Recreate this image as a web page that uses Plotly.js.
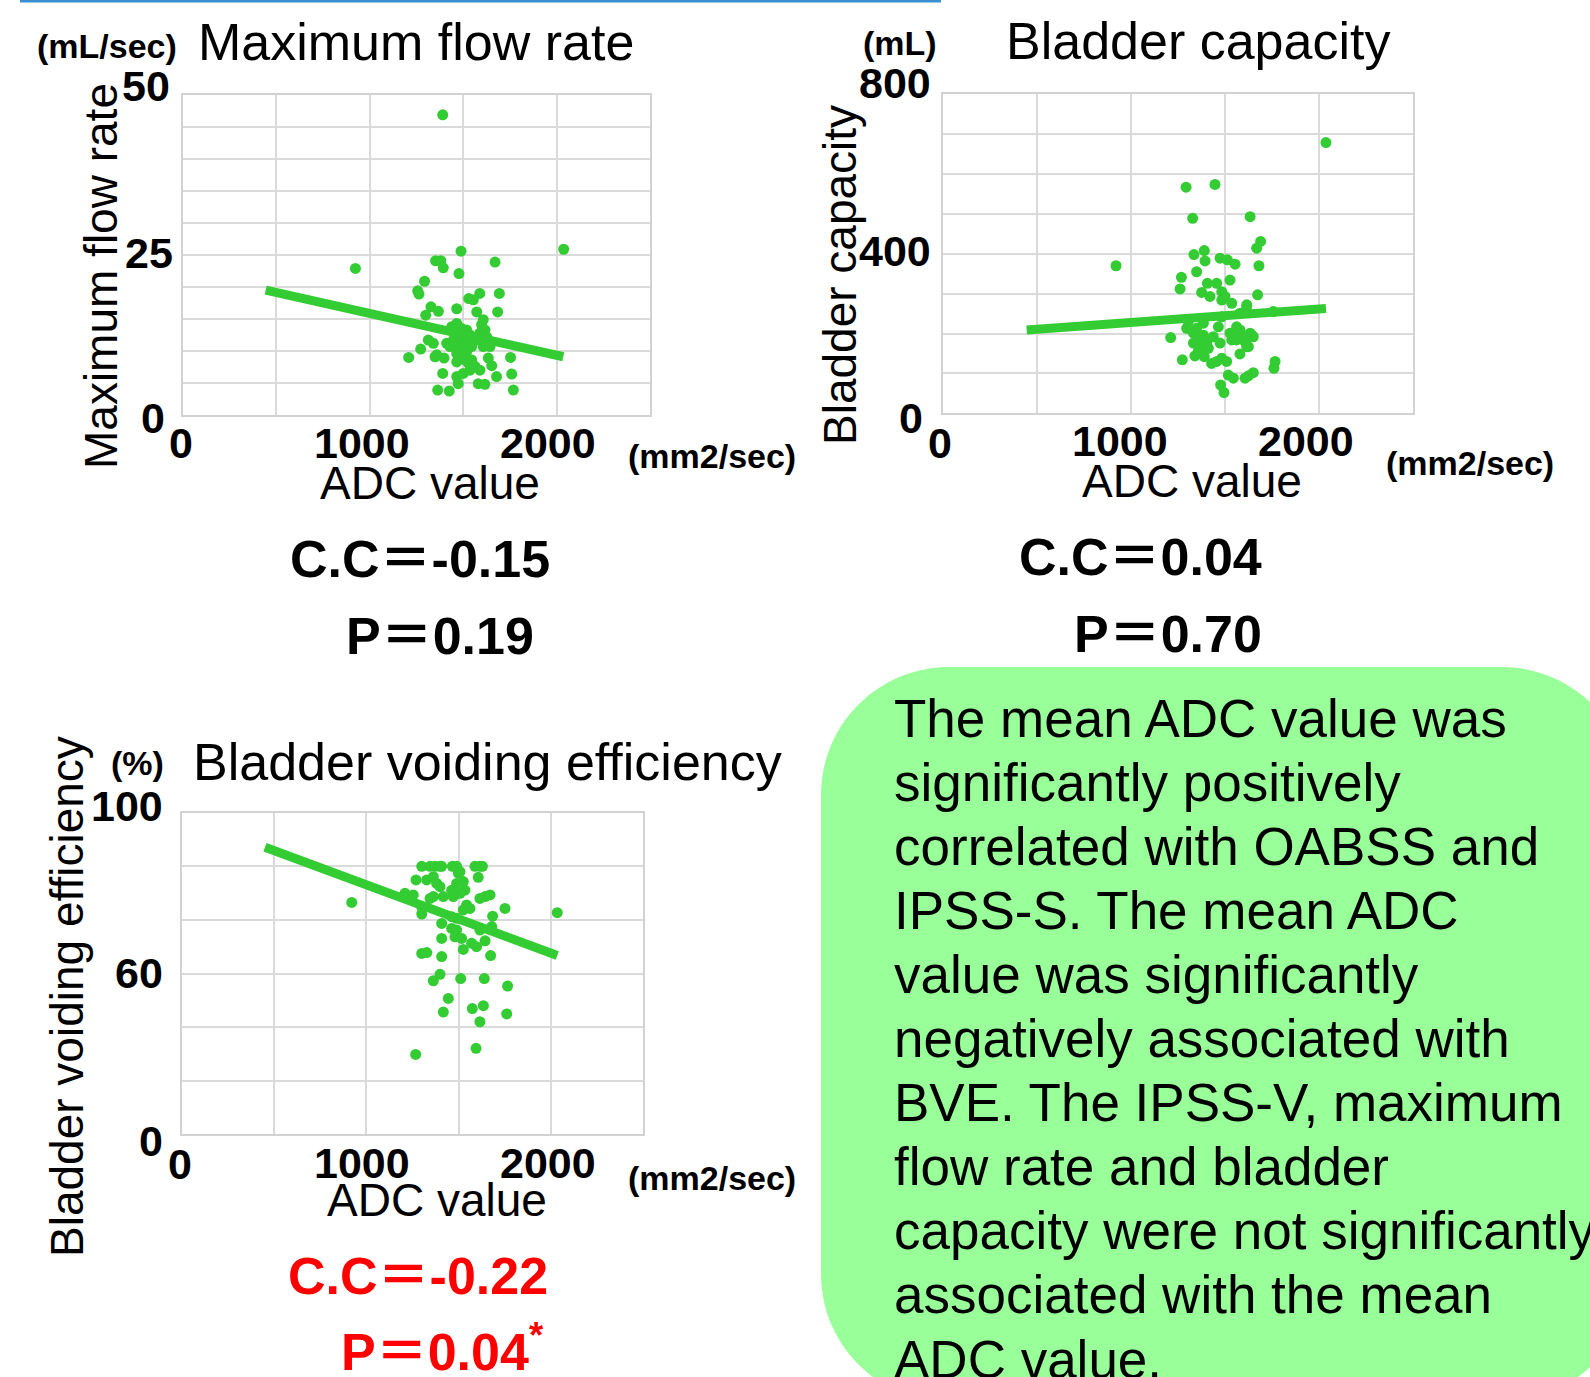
<!DOCTYPE html>
<html>
<head>
<meta charset="utf-8">
<script src="https://cdn.plot.ly/plotly-3.0.1.min.js"></script>
<style>html,body{margin:0;padding:0;background:#fff;}#chart{width:1590px;height:1377px;}</style>
</head>
<body>
<div id="chart"></div>
<script>
// ---------- DATA ----------
// Maximum flow rate (mL/sec) vs ADC value
const flowADC = [1391,2038,924,1489,1353,1381,1394,1671,1478,1294,1257,1264,1589,1530,1555,1694,1685,1466,1573,1328,1368,1300,1608,1314,1341,1412,1569,1617,1635,1273,1209,1350,1398,1359,1466,1519,1501,1635,1653,1754,1760,1391,1466,1501,1537,1590,1474,1581,1617,1679,1364,1426,1769,1439,1466,1492,1519,1457,1483,1510,1537,1448,1475,1501,1528,1430,1483,1546,1519,1466,1528,1546,1564,1590,1617,1626,1608,1644,1582,1599];
const flowRate = [46.9,25.9,22.9,25.6,24.1,24.1,23.0,23.9,22.1,20.9,19.4,18.9,19.0,18.2,18.0,19.0,16.1,16.6,16.1,16.9,16.2,15.6,14.9,11.7,11.2,11.2,12.2,11.2,11.7,10.3,9.0,9.1,8.9,9.4,9.6,10.2,8.7,8.9,7.7,9.0,6.4,6.5,6.0,6.5,7.0,7.0,4.9,4.9,4.8,6.0,3.9,3.75,3.9,13.8,14.3,13.5,13.3,12.8,12.5,12.2,12.5,11.7,11.5,11.2,11.5,10.7,10.7,10.7,9.9,8.3,8.1,8.6,7.6,12.8,13.3,12.2,10.7,10.7,11.7,14.1];
const flowFitADC = [444, 2036];
const flowFit = [19.5, 9.1];

// Bladder capacity (mL) vs ADC value
const capADC = [2038,1293,1447,1328,1634,1690,1669,920,1335,1390,1394,1474,1513,1554,1681,1349,1268,1261,1527,1406,1456,1376,1420,1483,1500,1674,1483,1536,1616,1758,1296,1349,1385,1465,1385,1527,1580,1634,1651,1211,1332,1367,1412,1536,1607,1625,1580,1340,1390,1429,1483,1509,1273,1767,1761,1518,1545,1625,1651,1477,1495,1607,1305,1332,1367,1403,1438,1474,1358,1456,1545,1562,1589,1643,1616,1562,1483,1580,1616];
const capacity = [679,567,574,489,493,431,414,370,398,408,382,389,385,374,370,355,341,312,334,326,326,303,293,305,293,297,284,276,272,255,213,213,226,217,196,201,209,201,192,190,176,163,163,184,180,167,149,144,142,125,138,130,134,130,113,96,88,94,102,71,52,88,230,201,188,176,192,176,155,130,201,184,192,196,167,217,242,251,268];
const capFitADC = [444, 2038];
const capFit = [209, 263];

// Bladder voiding efficiency (%) vs ADC value
const bveADC = [1300,1345,1372,1399,1408,1466,1489,1588,1615,1629,1507,1498,1269,1327,1606,1363,1381,1399,1489,1525,1534,1462,1471,1507,1209,1254,1345,1363,1417,1615,1643,1670,921,1543,1525,1561,1300,1300,1751,1684,2034,1462,1489,1408,1462,1489,1480,1516,1615,1679,1408,1570,1597,1643,1525,1300,1327,1408,1673,1399,1363,1511,1639,1765,1444,1417,1574,1634,1760,1615,1594,1267];
const bve = [100,100,100,100,100,100,100,100,100,100,98,97.5,94.9,94.9,95.9,96.1,93.6,92.4,93.6,94.3,91.1,91.1,88.7,89.9,89.9,89.3,88.0,88.7,88.7,88.0,88.7,89.3,86.5,85.6,83.7,84.3,84.9,82.2,84.3,81.4,82.7,81.2,80.6,78.7,76.8,76.2,73.7,73.1,76.2,77.5,73.1,71.3,70.0,72.2,69.0,67.5,67.8,66.3,66.7,59.7,57.3,58.1,58.1,55.3,50.7,45.6,46.9,48.0,44.9,42.0,32.1,29.8];
const bveFitADC = [451, 2034];
const bveFit = [107.1, 66.7];

// Text
const titles = ["Maximum flow rate", "Bladder capacity", "Bladder voiding efficiency"];
const units = ["(mL/sec)", "(mL)", "(%)"];
const yTickLabels = [["50","25","0"], ["800","400","0"], ["100","60","0"]];
const xTickLabels = ["0","1000","2000"];
const xTitle = "ADC value";
const xUnit = "(mm2/sec)";
const EQ = "<span style=\"font-family:'Noto Sans CJK JP'\">＝</span>";
const stats = [["C.C" + EQ + "-0.15", "P" + EQ + "0.19"],
               ["C.C" + EQ + "0.04", "P" + EQ + "0.70"],
               ["C.C" + EQ + "-0.22", "P" + EQ + "0.04<sup>*</sup>"]];
const boxLines = ["The mean ADC value was","significantly positively","correlated with OABSS and","IPSS-S. The mean ADC","value was significantly","negatively associated with","BVE. The IPSS-V, maximum","flow rate and bladder","capacity were not significantly","associated with the mean","ADC value."];

// ---------- LAYOUT HELPERS ----------
const W = 1590, H = 1377;
const FONT = "Liberation Sans, Arial, Helvetica, sans-serif";
const GREEN = "#33cc33";
const px = x => x / W;
const py = y => 1 - y / H;
const annotations = [];
function ann(text, x, y, size, opts) {
  opts = opts || {};
  annotations.push({
    text: text, xref: "paper", yref: "paper", x: px(x), y: py(y),
    xanchor: opts.xa || "center", yanchor: "middle", showarrow: false,
    textangle: opts.angle || 0,
    font: {family: FONT, size: size, color: opts.color || "#000", weight: opts.bold ? "bold" : "normal"}
  });
}

// Plot 1 texts
ann(units[0], 35, 46, 34, {bold: true, xa: "left"});
ann(titles[0], 196, 42, 52, {xa: "left"});
ann(yTickLabels[0][0], 172, 86, 43, {bold: true, xa: "right"});
ann(yTickLabels[0][1], 175, 253, 43, {bold: true, xa: "right"});
ann(yTickLabels[0][2], 167, 418, 43, {bold: true, xa: "right"});
ann(xTickLabels[0], 181, 443, 43, {bold: true});
ann(xTickLabels[1], 362, 443, 43, {bold: true});
ann(xTickLabels[2], 548, 443, 43, {bold: true});
ann(xUnit, 712, 456, 34, {bold: true});
ann(xTitle, 430, 483, 46);
ann(titles[0], 101, 276, 46, {angle: -90});
ann(stats[0][0], 420, 554, 52, {bold: true});
ann(stats[0][1], 440, 632, 52, {bold: true});

// Plot 2 texts
ann(units[1], 900, 43, 34, {bold: true});
ann(titles[1], 1004, 41, 52, {xa: "left"});
ann(yTickLabels[1][0], 933, 83, 43, {bold: true, xa: "right"});
ann(yTickLabels[1][1], 933, 251, 43, {bold: true, xa: "right"});
ann(yTickLabels[1][2], 925, 418, 43, {bold: true, xa: "right"});
ann(xTickLabels[0], 940, 443, 43, {bold: true});
ann(xTickLabels[1], 1120, 441, 43, {bold: true});
ann(xTickLabels[2], 1306, 441, 43, {bold: true});
ann(xUnit, 1470, 463, 34, {bold: true});
ann(xTitle, 1192, 481, 46);
ann(titles[1], 840, 275, 46, {angle: -90});
ann(stats[1][0], 1140, 552, 52, {bold: true});
ann(stats[1][1], 1168, 630, 52, {bold: true});

// Plot 3 texts
ann(units[2], 137, 763, 34, {bold: true});
ann(titles[2], 191, 762, 52, {xa: "left"});
ann(yTickLabels[2][0], 165, 806, 43, {bold: true, xa: "right"});
ann(yTickLabels[2][1], 165, 973, 43, {bold: true, xa: "right"});
ann(yTickLabels[2][2], 165, 1141, 43, {bold: true, xa: "right"});
ann(xTickLabels[0], 180, 1164, 43, {bold: true});
ann(xTickLabels[1], 362, 1163, 43, {bold: true});
ann(xTickLabels[2], 548, 1163, 43, {bold: true});
ann(xUnit, 712, 1178, 34, {bold: true});
ann(xTitle, 437, 1200, 46);
ann(titles[2], 67, 997, 46, {angle: -90});
ann(stats[2][0], 418, 1271, 52, {bold: true, color: "#ff0000"});
ann(stats[2][1], 442, 1347, 52, {bold: true, color: "#ff0000"});

// Box text
boxLines.forEach((t, i) => ann(t, 892, 718 + i * 64.1, 53, {xa: "left"}));

// Rounded green box
function roundedRect(L, T, R, B, r) {
  const k = 0.5523 * r;
  const P = (x, y) => px(x).toFixed(5) + "," + py(y).toFixed(5);
  return "M" + P(L + r, T) + " L" + P(R - r, T) +
    " C" + P(R - r + k, T) + " " + P(R, T + r - k) + " " + P(R, T + r) +
    " L" + P(R, B - r) +
    " C" + P(R, B - r + k) + " " + P(R - r + k, B) + " " + P(R - r, B) +
    " L" + P(L + r, B) +
    " C" + P(L + r - k, B) + " " + P(L, B - r + k) + " " + P(L, B - r) +
    " L" + P(L, T + r) +
    " C" + P(L, T + r - k) + " " + P(L + r - k, T) + " " + P(L + r, T) + " Z";
}
const shapes = [
  {type: "path", xref: "paper", yref: "paper", path: roundedRect(821, 667, 1630, 1402, 128),
   fillcolor: "#99ff99", line: {width: 0}, layer: "below"},
  {type: "line", xref: "paper", yref: "paper", x0: px(20), x1: px(941), y0: py(1), y1: py(1),
   line: {color: "#3a8fd4", width: 3}}
];

function axis(domain, range, dtick, anchor) {
  return {domain: domain, range: range, dtick: dtick, anchor: anchor, showticklabels: false,
    ticks: "", showgrid: true, gridcolor: "#dadada", gridwidth: 2, zeroline: false,
    showline: true, mirror: true, linecolor: "#d2d2d2", linewidth: 2, fixedrange: true};
}

const traces = [
  {x: flowADC, y: flowRate, xaxis: "x", yaxis: "y", mode: "markers", type: "scatter",
   marker: {color: GREEN, size: 11}},
  {x: flowFitADC, y: flowFit, xaxis: "x", yaxis: "y", mode: "lines", type: "scatter",
   line: {color: GREEN, width: 9}},
  {x: capADC, y: capacity, xaxis: "x2", yaxis: "y2", mode: "markers", type: "scatter",
   marker: {color: GREEN, size: 11}},
  {x: capFitADC, y: capFit, xaxis: "x2", yaxis: "y2", mode: "lines", type: "scatter",
   line: {color: GREEN, width: 9}},
  {x: bveADC, y: bve, xaxis: "x3", yaxis: "y3", mode: "markers", type: "scatter",
   marker: {color: GREEN, size: 11}},
  {x: bveFitADC, y: bveFit, xaxis: "x3", yaxis: "y3", mode: "lines", type: "scatter",
   line: {color: GREEN, width: 9}}
];

const layout = {
  width: W, height: H, margin: {l: 0, r: 0, t: 0, b: 0}, showlegend: false,
  paper_bgcolor: "#ffffff", plot_bgcolor: "#ffffff",
  font: {family: FONT},
  xaxis: axis([px(182.7), px(650)], [0, 2500], 500, "y"),
  yaxis: axis([py(415), py(95)], [0, 50], 5, "x"),
  xaxis2: axis([px(943.3), px(1412.7)], [0, 2500], 500, "y2"),
  yaxis2: axis([py(413.3), py(94.3)], [0, 800], 100, "x2"),
  xaxis3: axis([px(181.7), px(643.3)], [0, 2500], 500, "y3"),
  yaxis3: axis([py(1134.3), py(812.7)], [0, 120], 20, "x3"),
  annotations: annotations,
  shapes: shapes
};

Plotly.newPlot("chart", traces, layout, {displayModeBar: false, staticPlot: true});
</script>
</body>
</html>
